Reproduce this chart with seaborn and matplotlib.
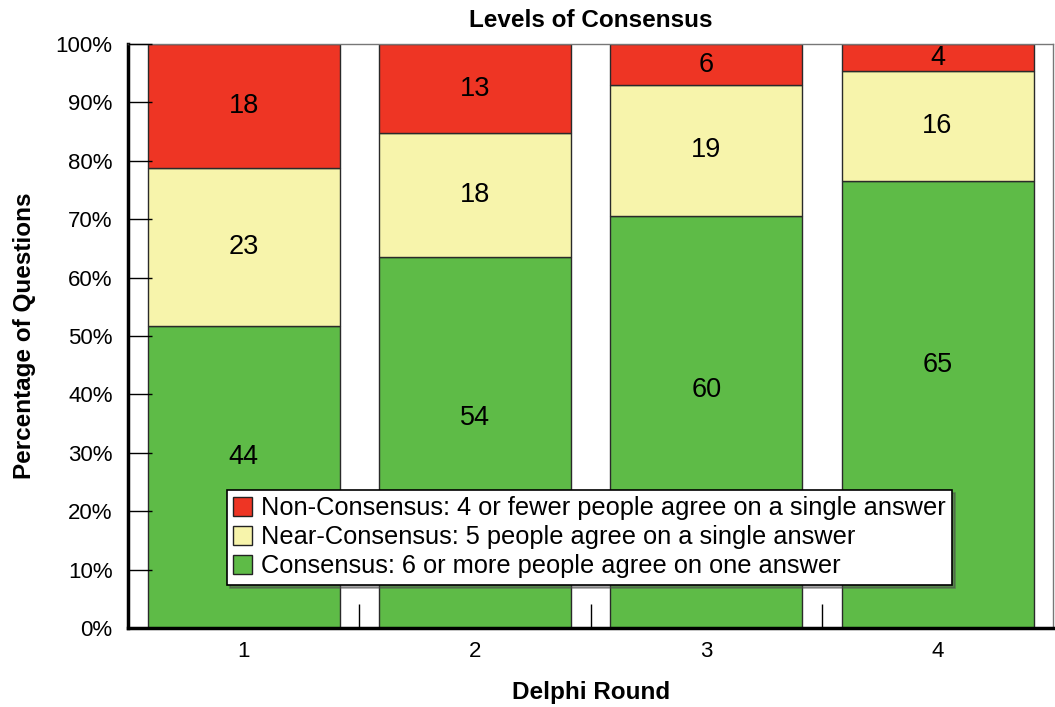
import matplotlib.pyplot as plt
import seaborn as sns
import pandas as pd
import numpy as np
from matplotlib.patches import Patch
from matplotlib.ticker import MultipleLocator, FixedLocator, PercentFormatter

# counts of questions per Delphi round
rounds = ['1', '2', '3', '4']
consensus = [44, 54, 60, 65]
near_consensus = [23, 18, 19, 16]
non_consensus = [18, 13, 6, 4]
# where the green counts sit (percent)
green_label_pos = [29.3, 36.0, 40.8, 45.0]

legend_labels = ['Non-Consensus: 4 or fewer people agree on a single answer',
                 'Near-Consensus: 5 people agree on a single answer',
                 'Consensus: 6 or more people agree on one answer']
colors = {'green': '#5EBB47', 'yellow': '#F7F4AB', 'red': '#EE3524'}

totals = np.array(consensus) + np.array(near_consensus) + np.array(non_consensus)
df = pd.DataFrame({
    'round': rounds,
    'green': np.array(consensus) / totals * 100,
    'yellow': np.array(near_consensus) / totals * 100,
    'red': np.array(non_consensus) / totals * 100,
})

sns.set_style('white')
plt.rcParams['font.family'] = ['Liberation Sans', 'DejaVu Sans']
plt.rcParams.update({
    'text.color': 'black', 'axes.labelcolor': 'black',
    'xtick.color': 'black', 'ytick.color': 'black',
    'xtick.direction': 'in', 'ytick.direction': 'in',
    'ytick.left': True, 'xtick.bottom': True,
})

fig = plt.figure(figsize=(10.55, 7.07), dpi=100)
ax = fig.add_axes([0.1213, 0.1117, 0.8770, 0.8261])

bottom = np.zeros(len(rounds))
for key in ['green', 'yellow', 'red']:
    sns.barplot(data=df, x='round', y=key, color=colors[key], bottom=bottom,
                width=0.83, edgecolor='#2a2a2a', linewidth=1.0, saturation=1,
                ax=ax)
    bottom = bottom + df[key].values

# value labels
for i in range(len(rounds)):
    g = df['green'][i]
    y = df['yellow'][i]
    r = df['red'][i]
    ax.text(i, green_label_pos[i], str(consensus[i]), ha='center', va='center', fontsize=19.5)
    ax.text(i, g + y / 2, str(near_consensus[i]), ha='center', va='center', fontsize=19.5)
    ax.text(i, g + y + r / 2, str(non_consensus[i]), ha='center', va='center', fontsize=19.5)

ax.set_axisbelow(False)
ax.set_xlim(-0.5, 3.5)
ax.set_ylim(0, 100)
ax.yaxis.set_major_locator(MultipleLocator(10))
ax.yaxis.set_major_formatter(PercentFormatter(decimals=0))
ax.xaxis.set_minor_locator(FixedLocator([0.5, 1.5, 2.5]))
ax.tick_params(axis='y', direction='in', length=17, width=1, labelsize=16, pad=11, left=True)
ax.tick_params(axis='x', which='major', length=0, labelsize=16, pad=9)
ax.tick_params(axis='x', which='minor', direction='in', length=17, width=1, bottom=True)

for side in ['left', 'bottom']:
    ax.spines[side].set_linewidth(2.5)
    ax.spines[side].set_color('black')
for side in ['top', 'right']:
    ax.spines[side].set_linewidth(1)
    ax.spines[side].set_color('#777777')

ax.set_title('Levels of Consensus', fontsize=17.5, fontweight='bold', pad=12)
ax.set_xlabel('Delphi Round', fontsize=17.5, fontweight='bold', labelpad=14)
ax.set_ylabel('Percentage of Questions', fontsize=17.5, fontweight='bold', labelpad=14)

handles = [Patch(facecolor=colors['red'], edgecolor='#222222'),
           Patch(facecolor=colors['yellow'], edgecolor='#222222'),
           Patch(facecolor=colors['green'], edgecolor='#222222')]
leg = ax.legend(handles, legend_labels, loc='lower left', bbox_to_anchor=(0.107, 0.074),
                fontsize=18.3, frameon=True, fancybox=False, shadow=True,
                handlelength=0.75, handleheight=0.75, handletextpad=0.35,
                labelspacing=0.2, borderpad=0.25, borderaxespad=0)
leg.get_frame().set_edgecolor('black')
leg.get_frame().set_linewidth(1.2)

fig.savefig('out.png', dpi=100)
